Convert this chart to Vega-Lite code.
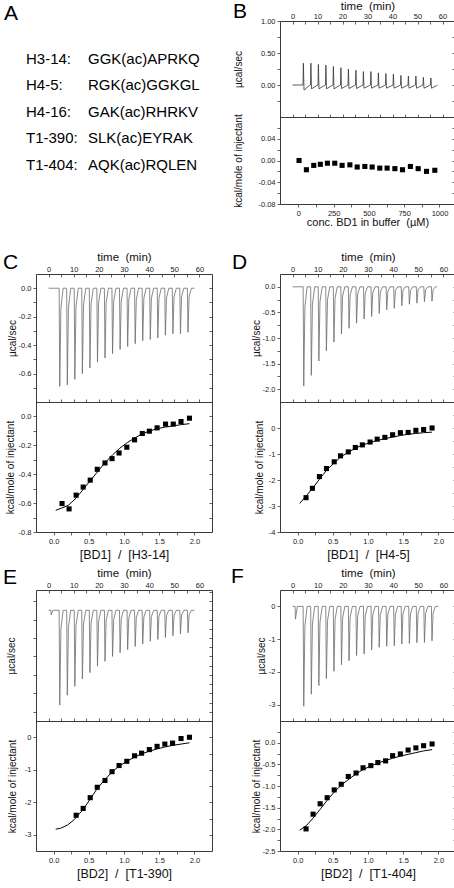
{
  "$schema": "https://vega.github.io/schema/vega-lite/v6.json",
  "background": "white",
  "padding": {"left": 2, "top": 0, "right": 0, "bottom": 0},
  "config": {
    "font": "Liberation Sans",
    "view": {"stroke": "#3a3a3a", "strokeWidth": 1},
    "locale": {"number": {"decimal": ".", "thousands": ",", "grouping": [3], "currency": ["", ""], "minus": "-"}},
    "axis": {"domain": false, "grid": false, "labelFont": "Liberation Sans", "labelFontSize": 7.5, "labelColor": "#1a1a1a", "labelPadding": 2, "labelFlush": false, "labelOverlap": false, "labelBound": false, "tickColor": "#3a3a3a", "tickSize": 3, "tickWidth": 0.8, "titleFont": "Liberation Sans", "titleFontWeight": "normal", "titleColor": "#111111", "titleFontSize": 10, "titlePadding": 3, "minExtent": 0},
    "title": {"font": "Liberation Sans", "fontSize": 21, "fontWeight": "normal", "color": "#000000", "anchor": "start", "frame": "group"}
  },
  "datasets": {
    "peptides": [
      {"peptide": "H3-14:", "sequence": "GGK(ac)APRKQ"},
      {"peptide": "H4-5:", "sequence": "RGK(ac)GGKGL"},
      {"peptide": "H4-16:", "sequence": "GAK(ac)RHRKV"},
      {"peptide": "T1-390:", "sequence": "SLK(ac)EYRAK"},
      {"peptide": "T1-404:", "sequence": "AQK(ac)RQLEN"}
    ],
    "traceB": [
      {"time": 0, "power": 0},
      {"time": 4.2, "power": 0}, {"time": 4.35, "power": 0.34}, {"time": 4.6, "power": -0.08}, {"time": 6.7, "power": -0.01},
      {"time": 7.2, "power": 0}, {"time": 7.35, "power": 0.34}, {"time": 7.6, "power": -0.06}, {"time": 9.7, "power": -0.01},
      {"time": 10.2, "power": 0}, {"time": 10.35, "power": 0.32}, {"time": 10.6, "power": -0.06}, {"time": 12.7, "power": -0.01},
      {"time": 13.2, "power": 0}, {"time": 13.35, "power": 0.31}, {"time": 13.6, "power": -0.06}, {"time": 15.7, "power": -0.01},
      {"time": 16.2, "power": 0}, {"time": 16.35, "power": 0.29}, {"time": 16.6, "power": -0.06}, {"time": 18.7, "power": -0.01},
      {"time": 19.2, "power": 0}, {"time": 19.35, "power": 0.27}, {"time": 19.6, "power": -0.055}, {"time": 21.7, "power": -0.01},
      {"time": 22.2, "power": 0}, {"time": 22.35, "power": 0.25}, {"time": 22.6, "power": -0.055}, {"time": 24.7, "power": -0.01},
      {"time": 25.2, "power": 0}, {"time": 25.35, "power": 0.23}, {"time": 25.6, "power": -0.055}, {"time": 27.7, "power": -0.01},
      {"time": 28.2, "power": 0}, {"time": 28.35, "power": 0.21}, {"time": 28.6, "power": -0.05}, {"time": 30.7, "power": -0.01},
      {"time": 31.2, "power": 0}, {"time": 31.35, "power": 0.21}, {"time": 31.6, "power": -0.05}, {"time": 33.7, "power": -0.01},
      {"time": 34.2, "power": 0}, {"time": 34.35, "power": 0.19}, {"time": 34.6, "power": -0.05}, {"time": 36.7, "power": -0.01},
      {"time": 37.2, "power": 0}, {"time": 37.35, "power": 0.18}, {"time": 37.6, "power": -0.05}, {"time": 39.7, "power": -0.01},
      {"time": 40.2, "power": 0}, {"time": 40.35, "power": 0.17}, {"time": 40.6, "power": -0.05}, {"time": 42.7, "power": -0.01},
      {"time": 43.2, "power": 0}, {"time": 43.35, "power": 0.15}, {"time": 43.6, "power": -0.05}, {"time": 45.7, "power": -0.01},
      {"time": 46.2, "power": 0}, {"time": 46.35, "power": 0.14}, {"time": 46.6, "power": -0.05}, {"time": 48.7, "power": -0.01},
      {"time": 49.2, "power": 0}, {"time": 49.35, "power": 0.14}, {"time": 49.6, "power": -0.05}, {"time": 51.7, "power": -0.01},
      {"time": 52.2, "power": 0}, {"time": 52.35, "power": 0.12}, {"time": 52.6, "power": -0.05}, {"time": 54.7, "power": -0.01},
      {"time": 55.2, "power": 0}, {"time": 55.35, "power": 0.11}, {"time": 55.6, "power": -0.05}, {"time": 57.7, "power": -0.01},
      {"time": 58, "power": 0}
    ],
    "isoB": [
      {"conc": 5, "heat": 0.0}, {"conc": 57, "heat": -0.017}, {"conc": 109, "heat": -0.009}, {"conc": 156, "heat": -0.007},
      {"conc": 206, "heat": -0.005}, {"conc": 258, "heat": -0.005}, {"conc": 310, "heat": -0.009}, {"conc": 365, "heat": -0.008},
      {"conc": 417, "heat": -0.012}, {"conc": 471, "heat": -0.011}, {"conc": 523, "heat": -0.012}, {"conc": 577, "heat": -0.014},
      {"conc": 629, "heat": -0.014}, {"conc": 684, "heat": -0.015}, {"conc": 738, "heat": -0.017}, {"conc": 794, "heat": -0.011},
      {"conc": 849, "heat": -0.015}, {"conc": 908, "heat": -0.02}, {"conc": 967, "heat": -0.018}
    ],
    "traceC": [
      {"time": 0, "power": 0},
      {"time": 4.2, "power": 0}, {"time": 4.45, "power": -0.69}, {"time": 4.9, "power": -0.14}, {"time": 5.8, "power": 0},
      {"time": 7.2, "power": 0}, {"time": 7.45, "power": -0.68}, {"time": 7.9, "power": -0.14}, {"time": 8.8, "power": 0},
      {"time": 10.2, "power": 0}, {"time": 10.45, "power": -0.64}, {"time": 10.9, "power": -0.13}, {"time": 11.8, "power": 0},
      {"time": 13.2, "power": 0}, {"time": 13.45, "power": -0.6}, {"time": 13.9, "power": -0.12}, {"time": 14.8, "power": 0},
      {"time": 16.2, "power": 0}, {"time": 16.45, "power": -0.56}, {"time": 16.9, "power": -0.11}, {"time": 17.8, "power": 0},
      {"time": 19.2, "power": 0}, {"time": 19.45, "power": -0.52}, {"time": 19.9, "power": -0.1}, {"time": 20.8, "power": 0},
      {"time": 22.2, "power": 0}, {"time": 22.45, "power": -0.49}, {"time": 22.9, "power": -0.1}, {"time": 23.8, "power": 0},
      {"time": 25.2, "power": 0}, {"time": 25.45, "power": -0.46}, {"time": 25.9, "power": -0.09}, {"time": 26.8, "power": 0},
      {"time": 28.2, "power": 0}, {"time": 28.45, "power": -0.43}, {"time": 28.9, "power": -0.09}, {"time": 29.8, "power": 0},
      {"time": 31.2, "power": 0}, {"time": 31.45, "power": -0.41}, {"time": 31.9, "power": -0.08}, {"time": 32.8, "power": 0},
      {"time": 34.2, "power": 0}, {"time": 34.45, "power": -0.39}, {"time": 34.9, "power": -0.08}, {"time": 35.8, "power": 0},
      {"time": 37.2, "power": 0}, {"time": 37.45, "power": -0.37}, {"time": 37.9, "power": -0.07}, {"time": 38.8, "power": 0},
      {"time": 40.2, "power": 0}, {"time": 40.45, "power": -0.36}, {"time": 40.9, "power": -0.07}, {"time": 41.8, "power": 0},
      {"time": 43.2, "power": 0}, {"time": 43.45, "power": -0.35}, {"time": 43.9, "power": -0.07}, {"time": 44.8, "power": 0},
      {"time": 46.2, "power": 0}, {"time": 46.45, "power": -0.33}, {"time": 46.9, "power": -0.07}, {"time": 47.8, "power": 0},
      {"time": 49.2, "power": 0}, {"time": 49.45, "power": -0.32}, {"time": 49.9, "power": -0.06}, {"time": 50.8, "power": 0},
      {"time": 52.2, "power": 0}, {"time": 52.45, "power": -0.32}, {"time": 52.9, "power": -0.06}, {"time": 53.8, "power": 0},
      {"time": 55.2, "power": 0}, {"time": 55.45, "power": -0.31}, {"time": 55.9, "power": -0.06}, {"time": 56.8, "power": 0},
      {"time": 58, "power": 0}
    ],
    "isoC": [
      {"ratio": 0.12, "heat": -0.603}, {"ratio": 0.22, "heat": -0.64}, {"ratio": 0.32, "heat": -0.545}, {"ratio": 0.42, "heat": -0.489},
      {"ratio": 0.52, "heat": -0.441}, {"ratio": 0.62, "heat": -0.366}, {"ratio": 0.73, "heat": -0.322}, {"ratio": 0.83, "heat": -0.292},
      {"ratio": 0.93, "heat": -0.253}, {"ratio": 1.04, "heat": -0.213}, {"ratio": 1.15, "heat": -0.162}, {"ratio": 1.26, "heat": -0.118},
      {"ratio": 1.36, "heat": -0.102}, {"ratio": 1.47, "heat": -0.079}, {"ratio": 1.59, "heat": -0.053}, {"ratio": 1.7, "heat": -0.053},
      {"ratio": 1.81, "heat": -0.035}, {"ratio": 1.93, "heat": -0.012}
    ],
    "fitC": [
      {"ratio": 0.03, "heat": -0.65}, {"ratio": 0.11, "heat": -0.635}, {"ratio": 0.21, "heat": -0.615}, {"ratio": 0.32, "heat": -0.565},
      {"ratio": 0.42, "heat": -0.505}, {"ratio": 0.52, "heat": -0.445}, {"ratio": 0.63, "heat": -0.38}, {"ratio": 0.73, "heat": -0.32},
      {"ratio": 0.84, "heat": -0.265}, {"ratio": 0.94, "heat": -0.22}, {"ratio": 1.05, "heat": -0.18}, {"ratio": 1.15, "heat": -0.15},
      {"ratio": 1.26, "heat": -0.12}, {"ratio": 1.37, "heat": -0.1}, {"ratio": 1.47, "heat": -0.085}, {"ratio": 1.58, "heat": -0.074},
      {"ratio": 1.7, "heat": -0.065}, {"ratio": 1.81, "heat": -0.057}, {"ratio": 1.93, "heat": -0.05}
    ],
    "traceD": [
      {"time": 0, "power": 0},
      {"time": 4.2, "power": 0}, {"time": 4.45, "power": -1.94}, {"time": 4.9, "power": -0.39}, {"time": 5.8, "power": 0},
      {"time": 7.2, "power": 0}, {"time": 7.45, "power": -1.73}, {"time": 7.9, "power": -0.35}, {"time": 8.8, "power": 0},
      {"time": 10.2, "power": 0}, {"time": 10.45, "power": -1.45}, {"time": 10.9, "power": -0.29}, {"time": 11.8, "power": 0},
      {"time": 13.2, "power": 0}, {"time": 13.45, "power": -1.25}, {"time": 13.9, "power": -0.25}, {"time": 14.8, "power": 0},
      {"time": 16.2, "power": 0}, {"time": 16.45, "power": -1.08}, {"time": 16.9, "power": -0.22}, {"time": 17.8, "power": 0},
      {"time": 19.2, "power": 0}, {"time": 19.45, "power": -0.92}, {"time": 19.9, "power": -0.18}, {"time": 20.8, "power": 0},
      {"time": 22.2, "power": 0}, {"time": 22.45, "power": -0.81}, {"time": 22.9, "power": -0.16}, {"time": 23.8, "power": 0},
      {"time": 25.2, "power": 0}, {"time": 25.45, "power": -0.71}, {"time": 25.9, "power": -0.14}, {"time": 26.8, "power": 0},
      {"time": 28.2, "power": 0}, {"time": 28.45, "power": -0.63}, {"time": 28.9, "power": -0.13}, {"time": 29.8, "power": 0},
      {"time": 31.2, "power": 0}, {"time": 31.45, "power": -0.58}, {"time": 31.9, "power": -0.12}, {"time": 32.8, "power": 0},
      {"time": 34.2, "power": 0}, {"time": 34.45, "power": -0.52}, {"time": 34.9, "power": -0.1}, {"time": 35.8, "power": 0},
      {"time": 37.2, "power": 0}, {"time": 37.45, "power": -0.45}, {"time": 37.9, "power": -0.09}, {"time": 38.8, "power": 0},
      {"time": 40.2, "power": 0}, {"time": 40.45, "power": -0.42}, {"time": 40.9, "power": -0.08}, {"time": 41.8, "power": 0},
      {"time": 43.2, "power": 0}, {"time": 43.45, "power": -0.37}, {"time": 43.9, "power": -0.07}, {"time": 44.8, "power": 0},
      {"time": 46.2, "power": 0}, {"time": 46.45, "power": -0.34}, {"time": 46.9, "power": -0.07}, {"time": 47.8, "power": 0},
      {"time": 49.2, "power": 0}, {"time": 49.45, "power": -0.32}, {"time": 49.9, "power": -0.06}, {"time": 50.8, "power": 0},
      {"time": 52.2, "power": 0}, {"time": 52.45, "power": -0.29}, {"time": 52.9, "power": -0.06}, {"time": 53.8, "power": 0},
      {"time": 55.2, "power": 0}, {"time": 55.45, "power": -0.28}, {"time": 55.9, "power": -0.06}, {"time": 56.8, "power": 0},
      {"time": 57.5, "power": 0}
    ],
    "isoD": [
      {"ratio": 0.12, "heat": -2.68}, {"ratio": 0.21, "heat": -2.32}, {"ratio": 0.31, "heat": -1.87}, {"ratio": 0.41, "heat": -1.56},
      {"ratio": 0.52, "heat": -1.3}, {"ratio": 0.61, "heat": -1.07}, {"ratio": 0.72, "heat": -0.92}, {"ratio": 0.82, "heat": -0.75},
      {"ratio": 0.92, "heat": -0.65}, {"ratio": 1.03, "heat": -0.54}, {"ratio": 1.13, "heat": -0.43}, {"ratio": 1.24, "heat": -0.36},
      {"ratio": 1.35, "heat": -0.26}, {"ratio": 1.46, "heat": -0.18}, {"ratio": 1.57, "heat": -0.17}, {"ratio": 1.68, "heat": -0.09},
      {"ratio": 1.79, "heat": -0.06}, {"ratio": 1.91, "heat": 0.0}
    ],
    "fitD": [
      {"ratio": 0.03, "heat": -2.9}, {"ratio": 0.11, "heat": -2.65}, {"ratio": 0.21, "heat": -2.33}, {"ratio": 0.31, "heat": -1.97},
      {"ratio": 0.41, "heat": -1.63}, {"ratio": 0.52, "heat": -1.34}, {"ratio": 0.61, "heat": -1.12}, {"ratio": 0.72, "heat": -0.93},
      {"ratio": 0.82, "heat": -0.78}, {"ratio": 0.92, "heat": -0.66}, {"ratio": 1.03, "heat": -0.56}, {"ratio": 1.13, "heat": -0.48},
      {"ratio": 1.24, "heat": -0.41}, {"ratio": 1.35, "heat": -0.35}, {"ratio": 1.46, "heat": -0.29}, {"ratio": 1.57, "heat": -0.24},
      {"ratio": 1.68, "heat": -0.21}, {"ratio": 1.79, "heat": -0.18}, {"ratio": 1.91, "heat": -0.16}
    ],
    "traceE": [
      {"time": 0, "power": 0},
      {"time": 0.9, "power": 0}, {"time": 1.05, "power": -0.25}, {"time": 1.7, "power": 0},
      {"time": 4.2, "power": 0}, {"time": 4.45, "power": -5.14}, {"time": 4.9, "power": -1.03}, {"time": 5.8, "power": 0},
      {"time": 7.2, "power": 0}, {"time": 7.45, "power": -4.6}, {"time": 7.9, "power": -0.92}, {"time": 8.8, "power": 0},
      {"time": 10.2, "power": 0}, {"time": 10.45, "power": -4.12}, {"time": 10.9, "power": -0.82}, {"time": 11.8, "power": 0},
      {"time": 13.2, "power": 0}, {"time": 13.45, "power": -3.72}, {"time": 13.9, "power": -0.74}, {"time": 14.8, "power": 0},
      {"time": 16.2, "power": 0}, {"time": 16.45, "power": -3.38}, {"time": 16.9, "power": -0.68}, {"time": 17.8, "power": 0},
      {"time": 19.2, "power": 0}, {"time": 19.45, "power": -3.03}, {"time": 19.9, "power": -0.61}, {"time": 20.8, "power": 0},
      {"time": 22.2, "power": 0}, {"time": 22.45, "power": -2.77}, {"time": 22.9, "power": -0.55}, {"time": 23.8, "power": 0},
      {"time": 25.2, "power": 0}, {"time": 25.45, "power": -2.5}, {"time": 25.9, "power": -0.5}, {"time": 26.8, "power": 0},
      {"time": 28.2, "power": 0}, {"time": 28.45, "power": -2.3}, {"time": 28.9, "power": -0.46}, {"time": 29.8, "power": 0},
      {"time": 31.2, "power": 0}, {"time": 31.45, "power": -2.13}, {"time": 31.9, "power": -0.43}, {"time": 32.8, "power": 0},
      {"time": 34.2, "power": 0}, {"time": 34.45, "power": -1.96}, {"time": 34.9, "power": -0.39}, {"time": 35.8, "power": 0},
      {"time": 37.2, "power": 0}, {"time": 37.45, "power": -1.82}, {"time": 37.9, "power": -0.36}, {"time": 38.8, "power": 0},
      {"time": 40.2, "power": 0}, {"time": 40.45, "power": -1.68}, {"time": 40.9, "power": -0.34}, {"time": 41.8, "power": 0},
      {"time": 43.2, "power": 0}, {"time": 43.45, "power": -1.58}, {"time": 43.9, "power": -0.32}, {"time": 44.8, "power": 0},
      {"time": 46.2, "power": 0}, {"time": 46.45, "power": -1.47}, {"time": 46.9, "power": -0.29}, {"time": 47.8, "power": 0},
      {"time": 49.2, "power": 0}, {"time": 49.45, "power": -1.38}, {"time": 49.9, "power": -0.28}, {"time": 50.8, "power": 0},
      {"time": 52.2, "power": 0}, {"time": 52.45, "power": -1.28}, {"time": 52.9, "power": -0.26}, {"time": 53.8, "power": 0},
      {"time": 55.2, "power": 0}, {"time": 55.45, "power": -1.22}, {"time": 55.9, "power": -0.24}, {"time": 56.8, "power": 0},
      {"time": 58, "power": 0}
    ],
    "isoE": [
      {"ratio": 0.32, "heat": -2.4}, {"ratio": 0.42, "heat": -2.19}, {"ratio": 0.52, "heat": -1.86}, {"ratio": 0.62, "heat": -1.54},
      {"ratio": 0.73, "heat": -1.33}, {"ratio": 0.83, "heat": -1.06}, {"ratio": 0.93, "heat": -0.87}, {"ratio": 1.04, "heat": -0.74},
      {"ratio": 1.15, "heat": -0.57}, {"ratio": 1.25, "heat": -0.49}, {"ratio": 1.36, "heat": -0.38}, {"ratio": 1.47, "heat": -0.28},
      {"ratio": 1.58, "heat": -0.21}, {"ratio": 1.69, "heat": -0.18}, {"ratio": 1.81, "heat": -0.04}, {"ratio": 1.93, "heat": 0.0}
    ],
    "fitE": [
      {"ratio": 0.03, "heat": -2.83}, {"ratio": 0.1, "heat": -2.8}, {"ratio": 0.2, "heat": -2.7}, {"ratio": 0.3, "heat": -2.52},
      {"ratio": 0.42, "heat": -2.22}, {"ratio": 0.52, "heat": -1.9}, {"ratio": 0.62, "heat": -1.58}, {"ratio": 0.73, "heat": -1.3},
      {"ratio": 0.83, "heat": -1.07}, {"ratio": 0.93, "heat": -0.89}, {"ratio": 1.04, "heat": -0.74}, {"ratio": 1.15, "heat": -0.61},
      {"ratio": 1.25, "heat": -0.51}, {"ratio": 1.36, "heat": -0.43}, {"ratio": 1.47, "heat": -0.36}, {"ratio": 1.58, "heat": -0.3},
      {"ratio": 1.69, "heat": -0.25}, {"ratio": 1.81, "heat": -0.21}, {"ratio": 1.93, "heat": -0.17}
    ],
    "traceF": [
      {"time": 0, "power": 0},
      {"time": 1.0, "power": 0}, {"time": 1.15, "power": -0.39}, {"time": 1.9, "power": 0},
      {"time": 4.2, "power": 0}, {"time": 4.45, "power": -3.05}, {"time": 4.9, "power": -0.61}, {"time": 5.8, "power": 0},
      {"time": 7.2, "power": 0}, {"time": 7.45, "power": -2.68}, {"time": 7.9, "power": -0.54}, {"time": 8.8, "power": 0},
      {"time": 10.2, "power": 0}, {"time": 10.45, "power": -2.42}, {"time": 10.9, "power": -0.48}, {"time": 11.8, "power": 0},
      {"time": 13.2, "power": 0}, {"time": 13.45, "power": -2.2}, {"time": 13.9, "power": -0.44}, {"time": 14.8, "power": 0},
      {"time": 16.2, "power": 0}, {"time": 16.45, "power": -1.98}, {"time": 16.9, "power": -0.4}, {"time": 17.8, "power": 0},
      {"time": 19.2, "power": 0}, {"time": 19.45, "power": -1.78}, {"time": 19.9, "power": -0.36}, {"time": 20.8, "power": 0},
      {"time": 22.2, "power": 0}, {"time": 22.45, "power": -1.66}, {"time": 22.9, "power": -0.33}, {"time": 23.8, "power": 0},
      {"time": 25.2, "power": 0}, {"time": 25.45, "power": -1.5}, {"time": 25.9, "power": -0.3}, {"time": 26.8, "power": 0},
      {"time": 28.2, "power": 0}, {"time": 28.45, "power": -1.45}, {"time": 28.9, "power": -0.29}, {"time": 29.8, "power": 0},
      {"time": 31.2, "power": 0}, {"time": 31.45, "power": -1.33}, {"time": 31.9, "power": -0.27}, {"time": 32.8, "power": 0},
      {"time": 34.2, "power": 0}, {"time": 34.45, "power": -1.25}, {"time": 34.9, "power": -0.25}, {"time": 35.8, "power": 0},
      {"time": 37.2, "power": 0}, {"time": 37.45, "power": -1.22}, {"time": 37.9, "power": -0.24}, {"time": 38.8, "power": 0},
      {"time": 40.2, "power": 0}, {"time": 40.45, "power": -1.2}, {"time": 40.9, "power": -0.24}, {"time": 41.8, "power": 0},
      {"time": 43.2, "power": 0}, {"time": 43.45, "power": -1.15}, {"time": 43.9, "power": -0.23}, {"time": 44.8, "power": 0},
      {"time": 46.2, "power": 0}, {"time": 46.45, "power": -1.13}, {"time": 46.9, "power": -0.23}, {"time": 47.8, "power": 0},
      {"time": 49.2, "power": 0}, {"time": 49.45, "power": -1.11}, {"time": 49.9, "power": -0.22}, {"time": 50.8, "power": 0},
      {"time": 52.2, "power": 0}, {"time": 52.45, "power": -1.1}, {"time": 52.9, "power": -0.22}, {"time": 53.8, "power": 0},
      {"time": 55.2, "power": 0}, {"time": 55.45, "power": -1.05}, {"time": 55.9, "power": -0.21}, {"time": 56.8, "power": 0},
      {"time": 58, "power": 0}
    ],
    "isoF": [
      {"ratio": 0.12, "heat": -1.99}, {"ratio": 0.22, "heat": -1.65}, {"ratio": 0.32, "heat": -1.41}, {"ratio": 0.42, "heat": -1.27},
      {"ratio": 0.52, "heat": -1.09}, {"ratio": 0.62, "heat": -0.96}, {"ratio": 0.72, "heat": -0.78}, {"ratio": 0.83, "heat": -0.7},
      {"ratio": 0.93, "heat": -0.58}, {"ratio": 1.04, "heat": -0.53}, {"ratio": 1.14, "heat": -0.46}, {"ratio": 1.25, "heat": -0.42},
      {"ratio": 1.35, "heat": -0.3}, {"ratio": 1.46, "heat": -0.26}, {"ratio": 1.57, "heat": -0.17}, {"ratio": 1.68, "heat": -0.12},
      {"ratio": 1.79, "heat": -0.07}, {"ratio": 1.91, "heat": -0.03}
    ],
    "fitF": [
      {"ratio": 0.03, "heat": -2.02}, {"ratio": 0.12, "heat": -1.92}, {"ratio": 0.21, "heat": -1.76}, {"ratio": 0.32, "heat": -1.54},
      {"ratio": 0.42, "heat": -1.33}, {"ratio": 0.52, "heat": -1.14}, {"ratio": 0.62, "heat": -0.98}, {"ratio": 0.73, "heat": -0.84},
      {"ratio": 0.83, "heat": -0.72}, {"ratio": 0.93, "heat": -0.62}, {"ratio": 1.04, "heat": -0.54}, {"ratio": 1.14, "heat": -0.47},
      {"ratio": 1.25, "heat": -0.41}, {"ratio": 1.35, "heat": -0.36}, {"ratio": 1.46, "heat": -0.31}, {"ratio": 1.57, "heat": -0.27},
      {"ratio": 1.68, "heat": -0.23}, {"ratio": 1.79, "heat": -0.19}, {"ratio": 1.91, "heat": -0.16}
    ]
  },
  "columns": 2,
  "align": "each",
  "spacing": {"row": 3, "column": 17},
  "concat": [
    {
      "title": {"text": "A", "dx": -32, "offset": -3},
      "width": 176,
      "height": 226,
      "view": {"stroke": null},
      "data": {"name": "peptides"},
      "transform": [{"fold": ["peptide", "sequence"], "as": ["column", "label"]}],
      "mark": {"type": "text", "align": "left", "baseline": "middle", "fontSize": 15, "font": "Liberation Sans", "color": "#000000"},
      "encoding": {
        "x": {"field": "column", "type": "nominal", "scale": {"type": "point", "domain": ["peptide", "sequence"], "range": [-10, 52], "padding": 0}, "axis": null},
        "y": {"field": "peptide", "type": "nominal", "sort": null, "scale": {"type": "point", "range": [37.5, 144], "padding": 0}, "axis": null},
        "text": {"field": "label", "type": "nominal"}
      }
    },
    {
      "title": {"text": "B", "dx": -47, "offset": -21},
      "width": 175, "height": 183,
      "resolve": {"scale": {"x": "independent", "y": "independent"}, "axis": {"x": "independent", "y": "independent"}},
      "layer": [
        {
          "data": {"name": "traceB"},
          "mark": {"type": "line", "color": "#333333", "strokeWidth": 0.8},
          "encoding": {
            "x": {"field": "time", "type": "quantitative", "scale": {"domain": [-5, 65], "nice": false, "zero": false},
              "axis": {"orient": "top", "title": "time\u00a0\u00a0(min)", "titleFontSize": 11.5, "titlePadding": 1, "values": [0,5,10,15,20,25,30,35,40,45,50,55,60], "format": "d", "labelExpr": "datum.value % 10 === 0 ? datum.label : ''", "tickSize": -3, "labelPadding": 3.5}},
            "y": {"field": "power", "type": "quantitative", "scale": {"domain": [-0.5, 1.0], "range": [96, 0], "nice": false, "zero": false},
              "axis": {"orient": "left", "title": "µcal/sec", "minExtent": 22, "maxExtent": 22, "titlePadding": 15, "values": [1,0.75,0.5,0.25,0,-0.25], "format": ".2f", "labelExpr": "datum.value % 0.5 === 0 ? datum.label : ''"}}
          }
        },
        {
          "data": {"name": "traceB"},
          "mark": {"type": "point", "opacity": 0},
          "encoding": {
            "x": {"field": "time", "type": "quantitative", "scale": {"domain": [-5, 65], "nice": false, "zero": false},
              "axis": {"orient": "top", "offset": -96, "domain": true, "domainColor": "#3a3a3a", "domainWidth": 1, "labels": false, "title": null, "values": [0,5,10,15,20,25,30,35,40,45,50,55,60], "tickSize": 3}},
            "y": {"field": "power", "type": "quantitative", "scale": {"domain": [-0.5, 1.0], "range": [96, 0], "nice": false, "zero": false},
              "axis": {"orient": "right", "labels": false, "title": null, "values": [1,0.75,0.5,0.25,0,-0.25], "tickSize": -3}}
          }
        },
        {
          "data": {"name": "isoB"},
          "mark": {"type": "square", "color": "#000000", "size": 26, "opacity": 1},
          "encoding": {
            "x": {"field": "conc", "type": "quantitative", "scale": {"domain": [-130, 1110], "nice": false, "zero": false},
              "axis": {"orient": "bottom", "title": "conc. BD1 in buffer\u00a0\u00a0(µM)", "titleFontSize": 11, "titlePadding": 0, "labelPadding": 2, "values": [0,125,250,375,500,625,750,875,1000], "format": "d", "labelExpr": "datum.value % 250 === 0 ? datum.label : ''"}},
            "y": {"field": "heat", "type": "quantitative", "scale": {"domain": [-0.08, 0.08], "range": [183, 96], "nice": false, "zero": false},
              "axis": {"orient": "left", "title": "kcal/mole of injectant", "minExtent": 22, "maxExtent": 22, "titlePadding": 15, "values": [0.06,0.04,0.02,0,-0.02,-0.04,-0.06,-0.08], "format": ".2f", "labelExpr": "indexof([0.04,0,-0.04,-0.08], datum.value) >= 0 ? datum.label : ''"}}
          }
        },
        {
          "data": {"name": "isoB"},
          "mark": {"type": "point", "opacity": 0},
          "encoding": {
            "x": {"field": "conc", "type": "quantitative", "scale": {"domain": [-130, 1110], "nice": false, "zero": false}, "axis": null},
            "y": {"field": "heat", "type": "quantitative", "scale": {"domain": [-0.08, 0.08], "range": [183, 96], "nice": false, "zero": false},
              "axis": {"orient": "right", "labels": false, "title": null, "values": [0.06,0.04,0.02,0,-0.02,-0.04,-0.06,-0.08], "tickSize": -3}}
          }
        }
      ]
    },
    {
      "title": {"text": "C", "dx": -33, "offset": -22},
      "width": 176, "height": 258,
      "resolve": {"scale": {"x": "independent", "y": "independent"}, "axis": {"x": "independent", "y": "independent"}},
      "layer": [
        {
          "data": {"name": "traceC"},
          "mark": {"type": "line", "color": "#6b6b6b", "strokeWidth": 0.8},
          "encoding": {
            "x": {"field": "time", "type": "quantitative", "scale": {"domain": [-5, 65], "nice": false, "zero": false},
              "axis": {"orient": "top", "title": "time\u00a0\u00a0(min)", "titleFontSize": 11.5, "titlePadding": 3, "values": [0,5,10,15,20,25,30,35,40,45,50,55,60], "format": "d", "labelExpr": "datum.value % 10 === 0 ? datum.label : ''", "tickSize": -3, "labelPadding": 4}},
            "y": {"field": "power", "type": "quantitative", "scale": {"domain": [-0.8, 0.1], "range": [128, 0], "nice": false, "zero": false},
              "axis": {"orient": "left", "title": "µcal/sec", "minExtent": 18, "maxExtent": 18, "titlePadding": 1, "values": [0,-0.1,-0.2,-0.3,-0.4,-0.5,-0.6,-0.7], "format": ".1f", "labelExpr": "indexof([0,-0.2,-0.4,-0.6], datum.value) >= 0 ? datum.label : ''"}}
          }
        },
        {
          "data": {"name": "traceC"},
          "mark": {"type": "point", "opacity": 0},
          "encoding": {
            "x": {"field": "time", "type": "quantitative", "scale": {"domain": [-5, 65], "nice": false, "zero": false},
              "axis": {"orient": "top", "offset": -128, "domain": true, "domainColor": "#3a3a3a", "domainWidth": 1, "labels": false, "title": null, "values": [0,5,10,15,20,25,30,35,40,45,50,55,60], "tickSize": 3}},
            "y": {"field": "power", "type": "quantitative", "scale": {"domain": [-0.8, 0.1], "range": [128, 0], "nice": false, "zero": false},
              "axis": {"orient": "right", "labels": false, "title": null, "values": [0,-0.1,-0.2,-0.3,-0.4,-0.5,-0.6,-0.7], "tickSize": -3}}
          }
        },
        {
          "data": {"name": "fitC"},
          "mark": {"type": "line", "color": "#000000", "strokeWidth": 1},
          "encoding": {
            "x": {"field": "ratio", "type": "quantitative", "scale": {"domain": [-0.25, 2.25], "nice": false, "zero": false},
              "axis": {"orient": "bottom", "title": "[BD1]\u00a0\u00a0/\u00a0\u00a0[H3-14]", "titleFontSize": 12.5, "titlePadding": 4, "labelPadding": 2, "values": [0,0.25,0.5,0.75,1,1.25,1.5,1.75,2], "format": ".1f", "labelExpr": "datum.value % 0.5 === 0 ? datum.label : ''"}},
            "y": {"field": "heat", "type": "quantitative", "scale": {"domain": [-0.8, 0.1], "range": [258, 128], "nice": false, "zero": false},
              "axis": {"orient": "left", "title": "kcal/mole of injectant", "minExtent": 18, "maxExtent": 18, "titlePadding": 3, "values": [0,-0.1,-0.2,-0.3,-0.4,-0.5,-0.6,-0.7,-0.8], "format": ".1f", "labelExpr": "indexof([0,-0.2,-0.4,-0.6,-0.8], datum.value) >= 0 ? datum.label : ''"}}
          }
        },
        {
          "data": {"name": "isoC"},
          "mark": {"type": "square", "color": "#000000", "size": 26, "opacity": 1},
          "encoding": {
            "x": {"field": "ratio", "type": "quantitative", "scale": {"domain": [-0.25, 2.25], "nice": false, "zero": false}, "axis": null},
            "y": {"field": "heat", "type": "quantitative", "scale": {"domain": [-0.8, 0.1], "range": [258, 128], "nice": false, "zero": false},
              "axis": {"orient": "right", "labels": false, "title": null, "values": [0,-0.1,-0.2,-0.3,-0.4,-0.5,-0.6,-0.7], "tickSize": -3}}
          }
        }
      ]
    },
    {
      "title": {"text": "D", "dx": -48, "offset": -22},
      "width": 176, "height": 258,
      "resolve": {"scale": {"x": "independent", "y": "independent"}, "axis": {"x": "independent", "y": "independent"}},
      "layer": [
        {
          "data": {"name": "traceD"},
          "mark": {"type": "line", "color": "#6b6b6b", "strokeWidth": 0.8},
          "encoding": {
            "x": {"field": "time", "type": "quantitative", "scale": {"domain": [-5, 65], "nice": false, "zero": false},
              "axis": {"orient": "top", "title": "time\u00a0\u00a0(min)", "titleFontSize": 11.5, "titlePadding": 3, "values": [0,5,10,15,20,25,30,35,40,45,50,55,60], "format": "d", "labelExpr": "datum.value % 10 === 0 ? datum.label : ''", "tickSize": -3, "labelPadding": 4}},
            "y": {"field": "power", "type": "quantitative", "scale": {"domain": [-2.25, 0.25], "range": [128, 0], "nice": false, "zero": false},
              "axis": {"orient": "left", "title": "µcal/sec", "minExtent": 18, "maxExtent": 18, "titlePadding": 1, "values": [0,-0.25,-0.5,-0.75,-1,-1.25,-1.5,-1.75,-2], "format": ".1f", "labelExpr": "datum.value % 0.5 === 0 ? datum.label : ''"}}
          }
        },
        {
          "data": {"name": "traceD"},
          "mark": {"type": "point", "opacity": 0},
          "encoding": {
            "x": {"field": "time", "type": "quantitative", "scale": {"domain": [-5, 65], "nice": false, "zero": false},
              "axis": {"orient": "top", "offset": -128, "domain": true, "domainColor": "#3a3a3a", "domainWidth": 1, "labels": false, "title": null, "values": [0,5,10,15,20,25,30,35,40,45,50,55,60], "tickSize": 3}},
            "y": {"field": "power", "type": "quantitative", "scale": {"domain": [-2.25, 0.25], "range": [128, 0], "nice": false, "zero": false},
              "axis": {"orient": "right", "labels": false, "title": null, "values": [0,-0.25,-0.5,-0.75,-1,-1.25,-1.5,-1.75,-2], "tickSize": -3}}
          }
        },
        {
          "data": {"name": "fitD"},
          "mark": {"type": "line", "color": "#000000", "strokeWidth": 1},
          "encoding": {
            "x": {"field": "ratio", "type": "quantitative", "scale": {"domain": [-0.25, 2.25], "nice": false, "zero": false},
              "axis": {"orient": "bottom", "title": "[BD1]\u00a0\u00a0/\u00a0\u00a0[H4-5]", "titleFontSize": 12.5, "titlePadding": 4, "labelPadding": 2, "values": [0,0.25,0.5,0.75,1,1.25,1.5,1.75,2], "format": ".1f", "labelExpr": "datum.value % 0.5 === 0 ? datum.label : ''"}},
            "y": {"field": "heat", "type": "quantitative", "scale": {"domain": [-4, 1], "range": [258, 128], "nice": false, "zero": false},
              "axis": {"orient": "left", "title": "kcal/mole of injectant", "minExtent": 14, "maxExtent": 14, "titlePadding": 2, "values": [0.5,0,-0.5,-1,-1.5,-2,-2.5,-3,-3.5,-4], "format": "d", "labelExpr": "datum.value % 1 === 0 ? datum.label : ''"}}
          }
        },
        {
          "data": {"name": "isoD"},
          "mark": {"type": "square", "color": "#000000", "size": 26, "opacity": 1},
          "encoding": {
            "x": {"field": "ratio", "type": "quantitative", "scale": {"domain": [-0.25, 2.25], "nice": false, "zero": false}, "axis": null},
            "y": {"field": "heat", "type": "quantitative", "scale": {"domain": [-4, 1], "range": [258, 128], "nice": false, "zero": false},
              "axis": {"orient": "right", "labels": false, "title": null, "values": [0.5,0,-0.5,-1,-1.5,-2,-2.5,-3,-3.5], "tickSize": -3}}
          }
        }
      ]
    },
    {
      "title": {"text": "E", "dx": -33, "offset": -21},
      "width": 176, "height": 261,
      "resolve": {"scale": {"x": "independent", "y": "independent"}, "axis": {"x": "independent", "y": "independent"}},
      "layer": [
        {
          "data": {"name": "traceE"},
          "mark": {"type": "line", "color": "#6b6b6b", "strokeWidth": 0.8},
          "encoding": {
            "x": {"field": "time", "type": "quantitative", "scale": {"domain": [-5, 65], "nice": false, "zero": false},
              "axis": {"orient": "top", "title": "time\u00a0\u00a0(min)", "titleFontSize": 11.5, "titlePadding": 3, "values": [0,5,10,15,20,25,30,35,40,45,50,55,60], "format": "d", "labelExpr": "datum.value % 10 === 0 ? datum.label : ''", "tickSize": -3, "labelPadding": 4}},
            "y": {"field": "power", "type": "quantitative", "scale": {"domain": [-6, 1.1], "range": [131, 0], "nice": false, "zero": false},
              "axis": {"orient": "left", "title": "µcal/sec", "minExtent": 14, "maxExtent": 14, "titlePadding": 6, "values": [1,0.5,0,-0.5,-1,-1.5,-2,-2.5,-3,-3.5,-4,-4.5,-5,-5.5], "format": "d", "labelExpr": "datum.value % 1 === 0 ? datum.label : ''"}}
          }
        },
        {
          "data": {"name": "traceE"},
          "mark": {"type": "point", "opacity": 0},
          "encoding": {
            "x": {"field": "time", "type": "quantitative", "scale": {"domain": [-5, 65], "nice": false, "zero": false},
              "axis": {"orient": "top", "offset": -131, "domain": true, "domainColor": "#3a3a3a", "domainWidth": 1, "labels": false, "title": null, "values": [0,5,10,15,20,25,30,35,40,45,50,55,60], "tickSize": 3}},
            "y": {"field": "power", "type": "quantitative", "scale": {"domain": [-6, 1.1], "range": [131, 0], "nice": false, "zero": false},
              "axis": {"orient": "right", "labels": false, "title": null, "values": [1,0.5,0,-0.5,-1,-1.5,-2,-2.5,-3,-3.5,-4,-4.5,-5,-5.5], "tickSize": -3}}
          }
        },
        {
          "data": {"name": "fitE"},
          "mark": {"type": "line", "color": "#000000", "strokeWidth": 1},
          "encoding": {
            "x": {"field": "ratio", "type": "quantitative", "scale": {"domain": [-0.25, 2.25], "nice": false, "zero": false},
              "axis": {"orient": "bottom", "title": "[BD2]\u00a0\u00a0/\u00a0\u00a0[T1-390]", "titleFontSize": 12.5, "titlePadding": 4, "labelPadding": 2, "values": [0,0.25,0.5,0.75,1,1.25,1.5,1.75,2], "format": ".1f", "labelExpr": "datum.value % 0.5 === 0 ? datum.label : ''"}},
            "y": {"field": "heat", "type": "quantitative", "scale": {"domain": [-3.5, 0.5], "range": [261, 131], "nice": false, "zero": false},
              "axis": {"orient": "left", "title": "kcal/mole of injectant", "minExtent": 14, "maxExtent": 14, "titlePadding": 5, "values": [0,-0.5,-1,-1.5,-2,-2.5,-3], "format": "d", "labelExpr": "datum.value % 1 === 0 ? datum.label : ''"}}
          }
        },
        {
          "data": {"name": "isoE"},
          "mark": {"type": "square", "color": "#000000", "size": 26, "opacity": 1},
          "encoding": {
            "x": {"field": "ratio", "type": "quantitative", "scale": {"domain": [-0.25, 2.25], "nice": false, "zero": false}, "axis": null},
            "y": {"field": "heat", "type": "quantitative", "scale": {"domain": [-3.5, 0.5], "range": [261, 131], "nice": false, "zero": false},
              "axis": {"orient": "right", "labels": false, "title": null, "values": [0,-0.5,-1,-1.5,-2,-2.5,-3], "tickSize": -3}}
          }
        }
      ]
    },
    {
      "title": {"text": "F", "dx": -49, "offset": -20},
      "width": 176, "height": 261,
      "resolve": {"scale": {"x": "independent", "y": "independent"}, "axis": {"x": "independent", "y": "independent"}},
      "layer": [
        {
          "data": {"name": "traceF"},
          "mark": {"type": "line", "color": "#6b6b6b", "strokeWidth": 0.8},
          "encoding": {
            "x": {"field": "time", "type": "quantitative", "scale": {"domain": [-5, 65], "nice": false, "zero": false},
              "axis": {"orient": "top", "title": "time\u00a0\u00a0(min)", "titleFontSize": 11.5, "titlePadding": 3, "values": [0,5,10,15,20,25,30,35,40,45,50,55,60], "format": "d", "labelExpr": "datum.value % 10 === 0 ? datum.label : ''", "tickSize": -3, "labelPadding": 4}},
            "y": {"field": "power", "type": "quantitative", "scale": {"domain": [-3.5, 0.5], "range": [131, 0], "nice": false, "zero": false},
              "axis": {"orient": "left", "title": "µcal/sec", "minExtent": 14, "maxExtent": 14, "titlePadding": 0, "values": [0,-0.5,-1,-1.5,-2,-2.5,-3], "format": "d", "labelExpr": "datum.value % 1 === 0 ? datum.label : ''"}}
          }
        },
        {
          "data": {"name": "traceF"},
          "mark": {"type": "point", "opacity": 0},
          "encoding": {
            "x": {"field": "time", "type": "quantitative", "scale": {"domain": [-5, 65], "nice": false, "zero": false},
              "axis": {"orient": "top", "offset": -131, "domain": true, "domainColor": "#3a3a3a", "domainWidth": 1, "labels": false, "title": null, "values": [0,5,10,15,20,25,30,35,40,45,50,55,60], "tickSize": 3}},
            "y": {"field": "power", "type": "quantitative", "scale": {"domain": [-3.5, 0.5], "range": [131, 0], "nice": false, "zero": false},
              "axis": {"orient": "right", "labels": false, "title": null, "values": [0,-0.5,-1,-1.5,-2,-2.5,-3], "tickSize": -3}}
          }
        },
        {
          "data": {"name": "fitF"},
          "mark": {"type": "line", "color": "#000000", "strokeWidth": 1},
          "encoding": {
            "x": {"field": "ratio", "type": "quantitative", "scale": {"domain": [-0.25, 2.25], "nice": false, "zero": false},
              "axis": {"orient": "bottom", "title": "[BD2]\u00a0\u00a0/\u00a0\u00a0[T1-404]", "titleFontSize": 12.5, "titlePadding": 4, "labelPadding": 2, "values": [0,0.25,0.5,0.75,1,1.25,1.5,1.75,2], "format": ".1f", "labelExpr": "datum.value % 0.5 === 0 ? datum.label : ''"}},
            "y": {"field": "heat", "type": "quantitative", "scale": {"domain": [-2.5, 0.5], "range": [261, 131], "nice": false, "zero": false},
              "axis": {"orient": "left", "title": "kcal/mole of injectant", "minExtent": 18, "maxExtent": 18, "titlePadding": 1, "values": [0.25,0,-0.25,-0.5,-0.75,-1,-1.25,-1.5,-1.75,-2,-2.25,-2.5], "format": ".1f", "labelExpr": "datum.value % 0.5 === 0 ? datum.label : ''"}}
          }
        },
        {
          "data": {"name": "isoF"},
          "mark": {"type": "square", "color": "#000000", "size": 26, "opacity": 1},
          "encoding": {
            "x": {"field": "ratio", "type": "quantitative", "scale": {"domain": [-0.25, 2.25], "nice": false, "zero": false}, "axis": null},
            "y": {"field": "heat", "type": "quantitative", "scale": {"domain": [-2.5, 0.5], "range": [261, 131], "nice": false, "zero": false},
              "axis": {"orient": "right", "labels": false, "title": null, "values": [0.25,0,-0.25,-0.5,-0.75,-1,-1.25,-1.5,-1.75,-2,-2.25], "tickSize": -3}}
          }
        }
      ]
    }
  ]
}
